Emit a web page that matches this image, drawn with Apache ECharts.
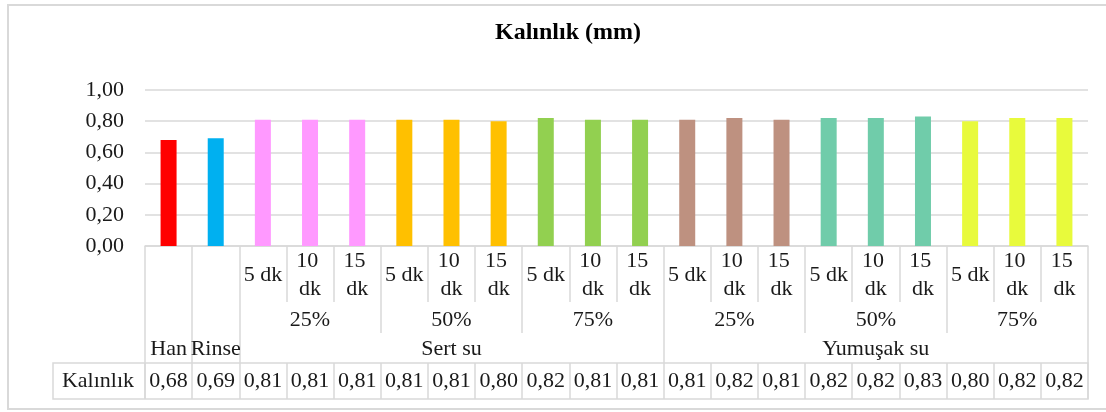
<!DOCTYPE html>
<html>
<head>
<meta charset="utf-8">
<script src="https://cdn.jsdelivr.net/npm/echarts@6/dist/echarts.min.js"></script>
<style>
html,body{margin:0;padding:0;background:#fff;}
#chart{width:1106px;height:412px;}
</style>
</head>
<body>
<div id="chart"></div>
<script>
// ---- data ----
const titleText = 'Kalınlık (mm)';
const rowLabel = 'Kalınlık';
const level1 = ['', '', '5 dk', '10 dk', '15 dk', '5 dk', '10 dk', '15 dk', '5 dk', '10 dk', '15 dk',
                '5 dk', '10 dk', '15 dk', '5 dk', '10 dk', '15 dk', '5 dk', '10 dk', '15 dk'];
const level2 = ['', '', '25%', '25%', '25%', '50%', '50%', '50%', '75%', '75%', '75%',
                '25%', '25%', '25%', '50%', '50%', '50%', '75%', '75%', '75%'];
const level3 = ['Han', 'Rinse', 'Sert su', 'Sert su', 'Sert su', 'Sert su', 'Sert su', 'Sert su', 'Sert su', 'Sert su', 'Sert su',
                'Yumuşak su', 'Yumuşak su', 'Yumuşak su', 'Yumuşak su', 'Yumuşak su', 'Yumuşak su', 'Yumuşak su', 'Yumuşak su', 'Yumuşak su'];
const values = [0.68, 0.69, 0.81, 0.81, 0.81, 0.81, 0.81, 0.80, 0.82, 0.81, 0.81,
                0.81, 0.82, 0.81, 0.82, 0.82, 0.83, 0.80, 0.82, 0.82];
const yTicks = [0, 0.2, 0.4, 0.6, 0.8, 1.0];

// ---- styles ----
const groupColors = ['#ff0000', '#00b0f0', '#ff99ff', '#ffc000', '#92d050', '#be9180', '#70ccaa', '#e8fa3c'];
const FONT = '"Liberation Serif", "Times New Roman", serif';
const TXT = '#1a1a1a';
const LINE = '#d9d9d9';
const FS = 22;

// helpers: keys for grouping and run starts/centers
const idx = values.map((_, i) => String(i));
function runs(keys) {
  const out = [];
  let s = 0;
  for (let i = 1; i <= keys.length; i++) {
    if (i === keys.length || keys[i] !== keys[s]) { out.push([s, i - 1]); s = i; }
  }
  return out;
}
const key2 = level3.map((v, i) => v + '|' + level2[i]);
const runs2 = runs(key2);
const runs3 = runs(level3);
const starts2 = new Set(runs2.map(r => r[0]));
const starts3 = new Set(runs3.map(r => r[0]));
const centers2 = new Set(runs2.map(r => r[0] + Math.floor((r[1] - r[0]) / 2)));
const centers3 = new Set(runs3.map(r => r[0] + Math.floor((r[1] - r[0]) / 2)));
const barColors = [];
runs2.forEach((r, k) => { for (let i = r[0]; i <= r[1]; i++) barColors[i] = groupColors[k]; });

const fmt = v => v.toFixed(2).replace('.', ',');

function baseX(extra) {
  return Object.assign({
    type: 'category',
    data: idx,
    position: 'bottom',
    boundaryGap: true,
    axisLine: { show: false },
    axisTick: { show: false },
    axisLabel: { show: false },
    splitLine: { show: false }
  }, extra);
}
const labelStyle = { fontFamily: FONT, fontSize: FS, color: TXT, interval: 0, verticalAlign: 'middle', hideOverlap: false };

const chart = echarts.init(document.getElementById('chart'), null, { renderer: 'canvas' });
chart.setOption({
  animation: false,
  backgroundColor: '#fff',
  title: {
    text: titleText,
    left: 490,
    top: 16,
    textStyle: { fontFamily: FONT, fontSize: 24, fontWeight: 'bold', color: '#000' }
  },
  grid: { left: 145, right: 18, top: 90, bottom: 166, containLabel: false },
  yAxis: {
    type: 'value',
    min: 0, max: 1, interval: 0.2,
    axisLine: { show: false },
    axisTick: { show: false },
    splitLine: { lineStyle: { color: LINE, width: 1.5 } },
    axisLabel: {
      fontFamily: FONT, fontSize: FS, color: TXT, margin: 21,
      formatter: v => yTicks.some(t => Math.abs(t - v) < 1e-9) ? fmt(v) : ''
    }
  },
  xAxis: [
    baseX({
      axisLine: { show: true, lineStyle: { color: LINE, width: 1.5 } },
      axisTick: { show: true, length: 56, interval: 0, lineStyle: { color: LINE, width: 1.5 } },
      axisLabel: Object.assign({}, labelStyle, {
        show: true, margin: 29, lineHeight: 28, width: 42, overflow: 'break',
        formatter: (v) => level1[+v]
      })
    }),
    baseX({
      axisTick: { show: true, length: 87, interval: (i) => starts2.has(i), lineStyle: { color: LINE, width: 1.5 } }
    }),
    baseX({
      axisTick: { show: true, length: 117, interval: (i) => starts3.has(i), lineStyle: { color: LINE, width: 1.5 } }
    }),
    baseX({
      offset: 74,
      axisLabel: Object.assign({}, labelStyle, {
        show: true, margin: 0,
        formatter: (v) => centers2.has(+v) ? level2[+v] : ''
      })
    }),
    baseX({
      offset: 103,
      axisLabel: Object.assign({}, labelStyle, {
        show: true, margin: 0,
        formatter: (v) => centers3.has(+v) ? level3[+v] : ''
      })
    }),
    baseX({
      offset: 117,
      axisTick: { show: true, length: 36, interval: 0, lineStyle: { color: LINE, width: 1.5 } },
      axisLabel: Object.assign({}, labelStyle, {
        show: true, margin: 18,
        formatter: (v) => fmt(values[+v])
      })
    })
  ],
  series: [{
    type: 'bar',
    xAxisIndex: 0,
    barWidth: 16,
    data: values.map((v, i) => ({ value: v, itemStyle: { color: barColors[i] } }))
  }],
  graphic: [
    { type: 'rect', shape: { x: 8, y: 5, width: 1110, height: 404 }, style: { fill: 'none', stroke: LINE, lineWidth: 2 }, silent: true },
    { type: 'rect', shape: { x: 53, y: 363, width: 1035, height: 36 }, style: { fill: 'none', stroke: LINE, lineWidth: 1.5 }, silent: true },
    { type: 'line', shape: { x1: 145, y1: 363, x2: 145, y2: 399 }, style: { stroke: LINE, lineWidth: 1.5 }, silent: true },
    { type: 'text', x: 98, y: 381, style: { text: rowLabel, font: FS + 'px ' + FONT, fill: TXT, textAlign: 'center', textVerticalAlign: 'middle' }, silent: true }
  ]
});
</script>
</body>
</html>
